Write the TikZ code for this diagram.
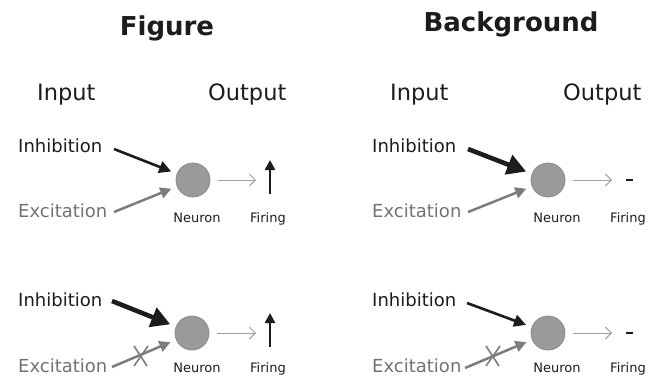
\documentclass[tikz,border=0pt]{standalone}
\usepackage{fontspec}
\setmainfont{DejaVu Sans}
\usetikzlibrary{arrows.meta}
\definecolor{ink}{HTML}{1C1C1C}
\definecolor{exctext}{HTML}{727272}
\definecolor{excarrow}{HTML}{7C7C7C}
\definecolor{cellfill}{HTML}{9A9A9A}
\definecolor{celldraw}{HTML}{8A8A8A}
\definecolor{outarrow}{HTML}{A0A0A0}
\tikzset{
  title/.style={font=\fontsize{26}{30}\selectfont\bfseries, text=ink, inner sep=0pt, anchor=base},
  head/.style={font=\fontsize{22.5}{26}\selectfont, text=ink, inner sep=0pt, anchor=base west},
  inhlabel/.style={font=\fontsize{18}{22}\selectfont, text=ink, inner sep=0pt, anchor=base west},
  exclabel/.style={font=\fontsize{18}{22}\selectfont, text=exctext, inner sep=0pt, anchor=base west},
  small/.style={font=\fontsize{13}{16}\selectfont, text=ink, inner sep=0pt, anchor=base},
  cell/.style={circle, fill=cellfill, draw=celldraw, line width=0.8pt, minimum size=34pt, inner sep=0pt},
  inhnormal/.style={draw=ink, line width=2.6pt, -{Triangle[length=12pt,width=12pt]}, shorten >=6pt},
  inhthick/.style={draw=ink, line width=4.6pt, -{Triangle[length=19pt,width=20pt]}, shorten >=6pt},
  excarr/.style={draw=excarrow, line width=2.5pt, -{Triangle[length=11pt,width=11pt]}, shorten >=6pt},
  outarr/.style={draw=outarrow, line width=0.9pt, -{Straight Barb[length=6pt,width=12pt]}, shorten <=8pt},
  firearr/.style={draw=ink, line width=2.5pt, -{Triangle[length=10pt,width=10pt]}},
  firedash/.style={draw=ink, line width=2.2pt},
  xmark/.style={draw=excarrow, line width=1.6pt},
}
\begin{document}
\begin{tikzpicture}[x=1pt,y=-1pt]
\useasboundingbox (0,0) rectangle (658,381);

% titles and headings
\node[title] (tfig) at (167,35) {Figure};
\node[title] (tbg) at (511,31) {Background};
\node[head] (inL) at (37,100) {Input};
\node[head] (outL) at (208,100) {Output};
\node[head] (inR) at (390,100) {Input};
\node[head] (outR) at (563,100) {Output};

% ---------- left, row 1 ----------
\node[inhlabel] (inhA) at (18,152) {Inhibition};
\node[exclabel] (excA) at (18,217) {Excitation};
\node[cell] (cellA) at (193,180) {};
\node[small] (neuA) at (197,222) {Neuron};
\node[small] (firA) at (268,222) {Firing};
\coordinate (inhsA) at (114,149);
\coordinate (excsA) at (114,212);
\coordinate (outeA) at (256,180);
\coordinate (fbA) at (270,194);
\coordinate (ftA) at (270,160);
\draw[inhnormal] (inhsA) -- (cellA);
\draw[excarr] (excsA) -- (cellA);
\draw[outarr] (cellA.east) -- (outeA);
\draw[firearr] (fbA) -- (ftA);

% ---------- left, row 2 ----------
\node[inhlabel] (inhB) at (18,306) {Inhibition};
\node[exclabel] (excB) at (18,372) {Excitation};
\node[cell] (cellB) at (192,333) {};
\node[small] (neuB) at (197,372) {Neuron};
\node[small] (firB) at (268,372) {Firing};
\coordinate (inhsB) at (112,301);
\coordinate (excsB) at (112,367);
\coordinate (outeB) at (256,333);
\coordinate (fbB) at (270,347);
\coordinate (ftB) at (270,313);
\draw[inhthick] (inhsB) -- (cellB);
\draw[excarr] (excsB) -- (cellB);
\draw[xmark] (134,346) -- (147,366) (148,346) -- (134,366);
\draw[outarr] (cellB.east) -- (outeB);
\draw[firearr] (fbB) -- (ftB);

% ---------- right, row 1 ----------
\node[inhlabel] (inhC) at (372,152) {Inhibition};
\node[exclabel] (excC) at (372,217) {Excitation};
\node[cell] (cellC) at (548,180) {};
\node[small] (neuC) at (557,222) {Neuron};
\node[small] (firC) at (628,222) {Firing};
\coordinate (inhsC) at (468,149);
\coordinate (excsC) at (468,212);
\coordinate (outeC) at (612,180);
\coordinate (dlC) at (626,180);
\coordinate (drC) at (633,180);
\draw[inhthick] (inhsC) -- (cellC);
\draw[excarr] (excsC) -- (cellC);
\draw[outarr] (cellC.east) -- (outeC);
\draw[firedash] (dlC) -- (drC);

% ---------- right, row 2 ----------
\node[inhlabel] (inhD) at (372,306) {Inhibition};
\node[exclabel] (excD) at (372,372) {Excitation};
\node[cell] (cellD) at (548,333) {};
\node[small] (neuD) at (557,372) {Neuron};
\node[small] (firD) at (628,372) {Firing};
\coordinate (inhsD) at (467,303);
\coordinate (excsD) at (465,368);
\coordinate (outeD) at (612,333);
\coordinate (dlD) at (626,333);
\coordinate (drD) at (633,333);
\draw[inhnormal] (inhsD) -- (cellD);
\draw[excarr] (excsD) -- (cellD);
\draw[xmark] (486,346) -- (499,366) (500,346) -- (486,366);
\draw[outarr] (cellD.east) -- (outeD);
\draw[firedash] (dlD) -- (drD);
\end{tikzpicture}
\end{document}
